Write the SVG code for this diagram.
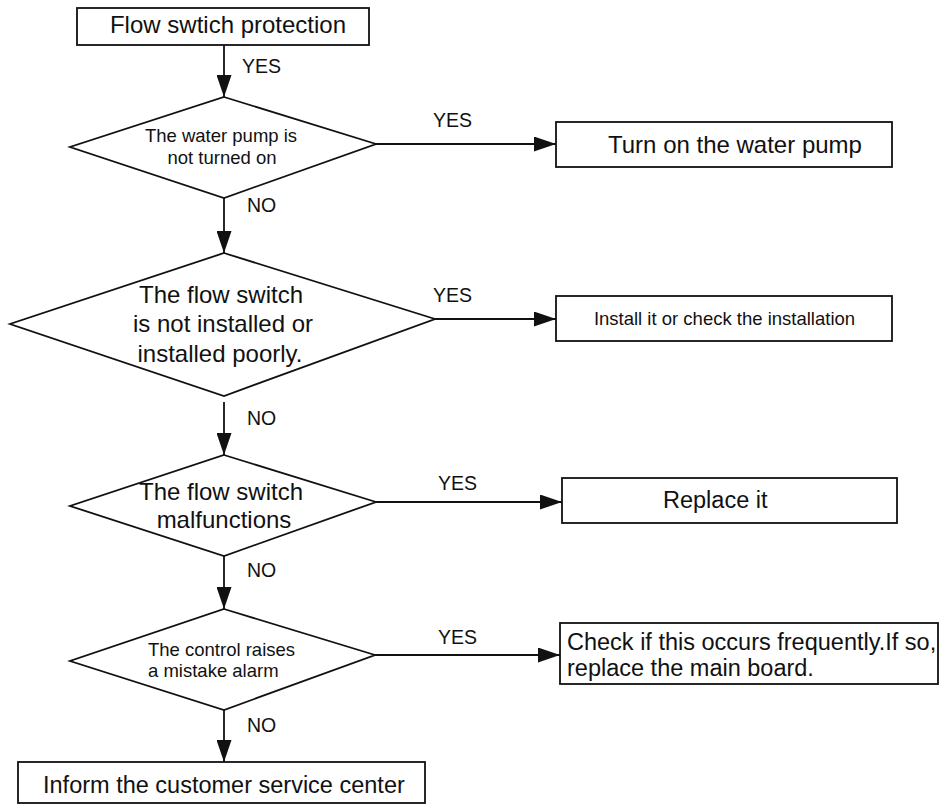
<svg xmlns="http://www.w3.org/2000/svg" width="941" height="805" viewBox="0 0 941 805">
  <style>
    .shape { fill: #fff; stroke: #111; stroke-width: 1.8; }
    .link { fill: none; stroke: #111; stroke-width: 1.8; }
    text { font-family: "Liberation Sans", Arial, sans-serif; fill: #111; }
    .big { font-size: 24px; }
    .mid { font-size: 23.5px; }
    .small { font-size: 18.5px; }
    .lbl { font-size: 19.5px; }
    .c { text-anchor: middle; }
  </style>
  <defs>
    <marker id="arrow" markerUnits="userSpaceOnUse" markerWidth="22" markerHeight="15" refX="22" refY="7.5" orient="auto">
      <path d="M0,0 L22,7.5 L0,15 z" fill="#111"/>
    </marker>
  </defs>
  <rect width="941" height="805" fill="#fff"/>

  <!-- connectors -->
  <g id="connectors">
    <path class="link" d="M224,45 V97" marker-end="url(#arrow)"/>
    <path class="link" d="M376,144 H556" marker-end="url(#arrow)"/>
    <path class="link" d="M224,198 V253" marker-end="url(#arrow)"/>
    <path class="link" d="M435,319 H556" marker-end="url(#arrow)"/>
    <path class="link" d="M224,402 V455" marker-end="url(#arrow)"/>
    <path class="link" d="M376,502 H562" marker-end="url(#arrow)"/>
    <path class="link" d="M224,556 V609" marker-end="url(#arrow)"/>
    <path class="link" d="M375,655 H560" marker-end="url(#arrow)"/>
    <path class="link" d="M224,710 V762" marker-end="url(#arrow)"/>
    <text class="lbl" x="242" y="73">YES</text>
    <text class="lbl" x="433" y="127">YES</text>
    <text class="lbl" x="247" y="212">NO</text>
    <text class="lbl" x="433" y="302">YES</text>
    <text class="lbl" x="247" y="425">NO</text>
    <text class="lbl" x="438" y="490">YES</text>
    <text class="lbl" x="247" y="577">NO</text>
    <text class="lbl" x="438" y="644">YES</text>
    <text class="lbl" x="247" y="732">NO</text>
  </g>

  <g id="start">
    <rect class="shape" x="77" y="8" width="292" height="37"/>
    <text class="big c" x="228" y="33">Flow swtich protection</text>
  </g>

  <g id="q-pump">
    <polygon class="shape" points="224,97 376,144 224,198 70,147"/>
    <text class="small c" x="221" y="142">The water pump is</text>
    <text class="small c" x="222" y="164">not turned on</text>
  </g>

  <g id="a-pump">
    <rect class="shape" x="556" y="122" width="336" height="45"/>
    <text class="big" x="608" y="153">Turn on the water pump</text>
  </g>

  <g id="q-install">
    <polygon class="shape" points="224,253 435,319 224,396 10,324"/>
    <text class="big c" x="221" y="303">The flow switch</text>
    <text class="big c" x="223" y="332">is not installed or</text>
    <text class="big c" x="220" y="362">installed poorly.</text>
  </g>

  <g id="a-install">
    <rect class="shape" x="556" y="296" width="336" height="45"/>
    <text class="small c" x="724.5" y="325">Install it or check the installation</text>
  </g>

  <g id="q-fault">
    <polygon class="shape" points="224,455 376,502 224,556 70,506"/>
    <text class="big c" x="221" y="500">The flow switch</text>
    <text class="big c" x="224" y="528">malfunctions</text>
  </g>

  <g id="a-fault">
    <rect class="shape" x="562" y="478" width="335" height="45"/>
    <text class="mid" x="663" y="508">Replace it</text>
  </g>

  <g id="q-alarm">
    <polygon class="shape" points="224,609 375,655 224,710 70,661"/>
    <text class="small" x="148" y="656">The control raises</text>
    <text class="small" x="148" y="677">a mistake alarm</text>
  </g>

  <g id="a-alarm">
    <rect class="shape" x="560" y="623" width="378" height="61"/>
    <text class="mid" x="567" y="650">Check if this occurs frequently.If so,</text>
    <text class="mid" x="567" y="676">replace the main board.</text>
  </g>

  <g id="end">
    <rect class="shape" x="18" y="762" width="407" height="41"/>
    <text class="mid" x="43" y="793">Inform the customer service center</text>
  </g>
</svg>
